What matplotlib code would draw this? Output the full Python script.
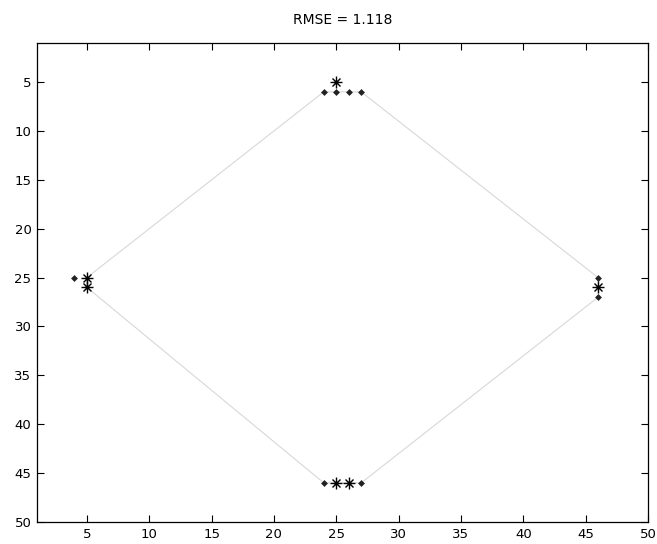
import numpy as np
import matplotlib
matplotlib.use('Agg')
from matplotlib import pyplot as plt

# estimated points (dots)
est_x = [24, 25, 26, 27, 4, 46, 46, 24, 27]
est_y = [6, 6, 6, 6, 25, 25, 27, 46, 46]

# true points (asterisks)
true_x = [25, 5, 5, 46, 25, 26]
true_y = [5, 25, 26, 26, 46, 46]

# outline (light gray)
outline_x = [24, 27, 46, 46, 27, 24, 5, 5, 24]
outline_y = [6, 6, 25, 27, 46, 46, 26, 25, 6]

rmse = 1.118

fig = plt.figure(figsize=(6.57, 5.44), dpi=100)
ax = fig.add_axes([37/657, 1-522/544, (648-37)/657, (522-43)/544])

ax.plot(outline_x, outline_y, color='#d8d8d8', lw=0.8, zorder=1)
ax.plot(est_x, est_y, 'D', color='#222222', ms=3.5, mew=0, zorder=2)
ax.plot(true_x, true_y, '+', color='black', ms=9, mew=1.0, zorder=3)
ax.plot(true_x, true_y, 'x', color='black', ms=6, mew=1.0, zorder=3)
ax.plot(true_x, true_y, 'o', color='black', ms=3, mew=0, zorder=3)

ax.set_xlim(1, 50)
ax.set_ylim(50, 1)
ax.set_xticks(np.arange(5, 51, 5))
ax.set_yticks(np.arange(5, 51, 5))
ax.tick_params(direction='in', length=5, width=0.8, top=True, right=True,
               labelsize=9.5, colors='black', pad=4)
for s in ax.spines.values():
    s.set_linewidth(0.9)

ax.set_title('RMSE = %.3f' % rmse, fontsize=10, pad=14)

fig.savefig('out.png', dpi=100)
